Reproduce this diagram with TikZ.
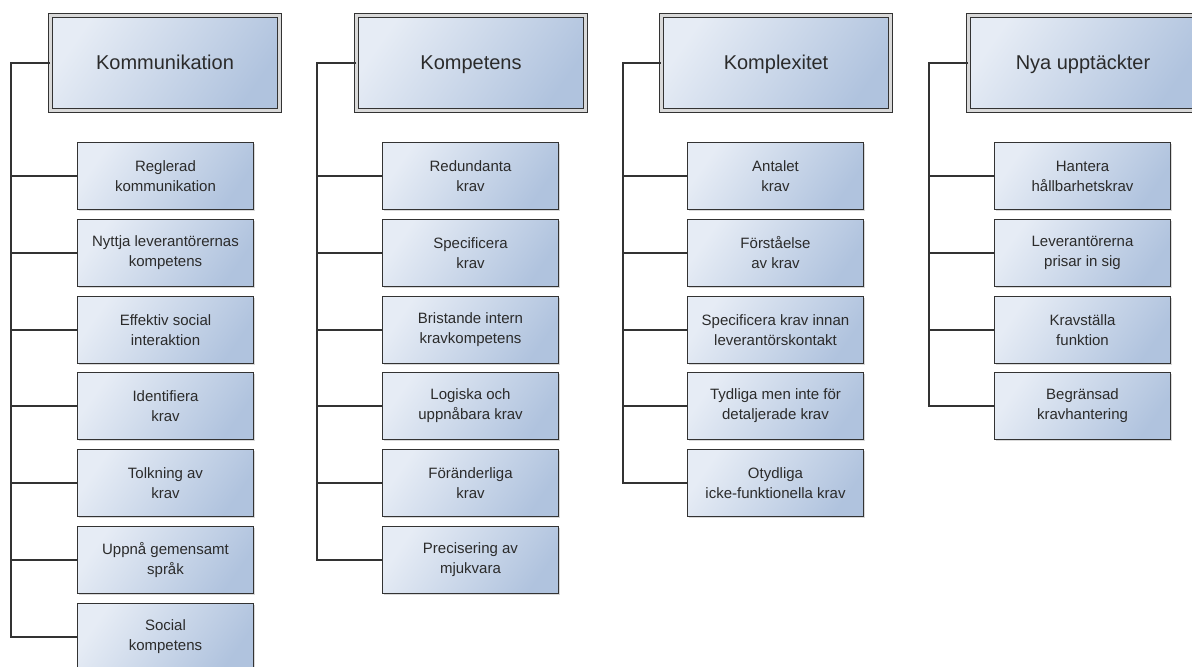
\documentclass[tikz,border=0pt]{standalone}
\usepackage{fontspec}
\setmainfont{Liberation Sans}
\usepackage{tikz}
\usetikzlibrary{shadows}
\usepackage{xcolor}
\definecolor{ljusbla}{HTML}{E6ECF5}
\definecolor{morkbla}{HTML}{B0C3DE}
\definecolor{kant}{HTML}{333333}
\definecolor{textgra}{HTML}{2B2B2B}

\begin{document}
\begin{tikzpicture}[x=0.75pt, y=-0.75pt,
    huvud/.style={draw=kant, line width=0.9pt, double=gray!30, double distance=2.2pt,
      top color=ljusbla, bottom color=morkbla, shading angle=55,
      minimum width=171.5pt, minimum height=71.3pt, text=textgra,
      text height=1.8ex, text depth=0pt,
      font=\fontsize{15}{18}\selectfont,
      drop shadow={shadow xshift=1.3pt, shadow yshift=-1.3pt, opacity=0.3}},
    ruta/.style={draw=kant, line width=0.9pt,
      top color=ljusbla, bottom color=morkbla, shading angle=55,
      minimum width=132pt, minimum height=50.3pt, align=center, text=textgra,
      font=\fontsize{11.25}{15}\selectfont,
      drop shadow={shadow xshift=1.3pt, shadow yshift=-1.3pt, opacity=0.3}},
    led/.style={draw=kant, line width=0.8pt}]
    \useasboundingbox (0,0) rectangle (1192,667);

    % Kommunikation
    \node[huvud] (kom) at (165,63) {Kommunikation};
    \node[ruta] (kom1) at (165.5,176) {Reglerad\\kommunikation};
    \node[ruta] (kom2) at (165.5,253) {Nyttja leverantörernas\\kompetens};
    \node[ruta] (kom3) at (165.5,330) {Effektiv social\\interaktion};
    \node[ruta] (kom4) at (165.5,406) {Identifiera\\krav};
    \node[ruta] (kom5) at (165.5,483) {Tolkning av\\krav};
    \node[ruta] (kom6) at (165.5,560) {Uppnå gemensamt\\språk};
    \node[ruta] (kom7) at (165.5,637) {Social\\kompetens};
    \coordinate (komT) at (11,63);
    \draw[led] (kom.west) -- (komT) |- (kom7.west);
    \draw[led] (kom1.west) -- (kom1.west -| komT);
    \draw[led] (kom2.west) -- (kom2.west -| komT);
    \draw[led] (kom3.west) -- (kom3.west -| komT);
    \draw[led] (kom4.west) -- (kom4.west -| komT);
    \draw[led] (kom5.west) -- (kom5.west -| komT);
    \draw[led] (kom6.west) -- (kom6.west -| komT);

    % Kompetens
    \node[huvud] (kmp) at (471,63) {Kompetens};
    \node[ruta] (kmp1) at (470.5,176) {Redundanta\\krav};
    \node[ruta] (kmp2) at (470.5,253) {Specificera\\krav};
    \node[ruta] (kmp3) at (470.5,330) {Bristande intern\\kravkompetens};
    \node[ruta] (kmp4) at (470.5,406) {Logiska och\\uppnåbara krav};
    \node[ruta] (kmp5) at (470.5,483) {Föränderliga\\krav};
    \node[ruta] (kmp6) at (470.5,560) {Precisering av\\mjukvara};
    \coordinate (kmpT) at (317,63);
    \draw[led] (kmp.west) -- (kmpT) |- (kmp6.west);
    \draw[led] (kmp1.west) -- (kmp1.west -| kmpT);
    \draw[led] (kmp2.west) -- (kmp2.west -| kmpT);
    \draw[led] (kmp3.west) -- (kmp3.west -| kmpT);
    \draw[led] (kmp4.west) -- (kmp4.west -| kmpT);
    \draw[led] (kmp5.west) -- (kmp5.west -| kmpT);

    % Komplexitet
    \node[huvud] (kpx) at (776,63) {Komplexitet};
    \node[ruta] (kpx1) at (775.5,176) {Antalet\\krav};
    \node[ruta] (kpx2) at (775.5,253) {Förståelse\\av krav};
    \node[ruta] (kpx3) at (775.5,330) {Specificera krav innan\\leverantörskontakt};
    \node[ruta] (kpx4) at (775.5,406) {Tydliga men inte för\\detaljerade krav};
    \node[ruta] (kpx5) at (775.5,483) {Otydliga\\icke-funktionella krav};
    \coordinate (kpxT) at (623,63);
    \draw[led] (kpx.west) -- (kpxT) |- (kpx5.west);
    \draw[led] (kpx1.west) -- (kpx1.west -| kpxT);
    \draw[led] (kpx2.west) -- (kpx2.west -| kpxT);
    \draw[led] (kpx3.west) -- (kpx3.west -| kpxT);
    \draw[led] (kpx4.west) -- (kpx4.west -| kpxT);

    % Nya upptäckter
    \node[huvud] (nya) at (1083,63) {Nya upptäckter};
    \node[ruta] (nya1) at (1082.5,176) {Hantera\\hållbarhetskrav};
    \node[ruta] (nya2) at (1082.5,253) {Leverantörerna\\prisar in sig};
    \node[ruta] (nya3) at (1082.5,330) {Kravställa\\funktion};
    \node[ruta] (nya4) at (1082.5,406) {Begränsad\\kravhantering};
    \coordinate (nyaT) at (929,63);
    \draw[led] (nya.west) -- (nyaT) |- (nya4.west);
    \draw[led] (nya1.west) -- (nya1.west -| nyaT);
    \draw[led] (nya2.west) -- (nya2.west -| nyaT);
    \draw[led] (nya3.west) -- (nya3.west -| nyaT);
\end{tikzpicture}
\end{document}
